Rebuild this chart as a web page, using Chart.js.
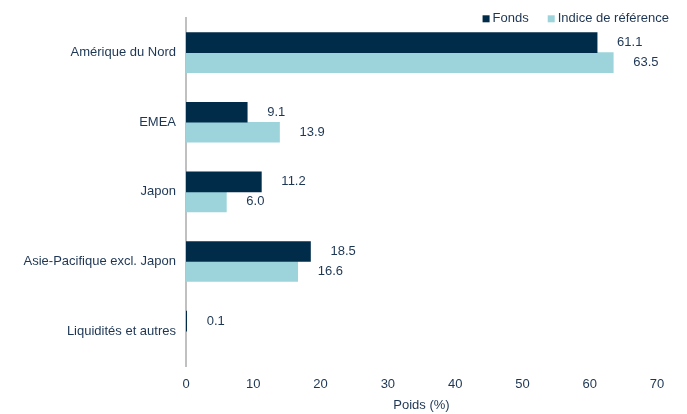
<!DOCTYPE html>
<html lang="fr">
<head>
<meta charset="utf-8">
<script src="https://cdn.jsdelivr.net/npm/chart.js@4/dist/chart.umd.min.js"></script>
<style>
  html, body { margin: 0; padding: 0; background: #ffffff; }
  #wrap { position: relative; width: 687px; height: 414px; }
</style>
</head>
<body>
<div id="wrap"><canvas id="region-chart"></canvas></div>
<script>
// Regional weights (%)
const regions = ['Amérique du Nord', 'EMEA', 'Japon', 'Asie-Pacifique excl. Japon', 'Liquidités et autres'];
const fundWeights = [61.1, 9.1, 11.2, 18.5, 0.1];
const benchmarkWeights = [63.5, 13.9, 6.0, 16.6, null];
const xTicks = [0, 10, 20, 30, 40, 50, 60, 70];

const TEXT = '#1d3654';
const FONT = { family: 'Liberation Sans, Arial, sans-serif', size: 13 };

/**
 * Draws the value next to the end of each bar
 */
const valueLabels = {
    id: 'valueLabels',
    afterDatasetsDraw(chart) {
        const ctx = chart.ctx;
        ctx.save();
        ctx.font = `${FONT.size}px ${FONT.family}`;
        ctx.fillStyle = TEXT;
        ctx.textAlign = 'left';
        ctx.textBaseline = 'middle';
        chart.data.datasets.forEach((ds, i) => {
            chart.getDatasetMeta(i).data.forEach((bar, j) => {
                const v = ds.data[j];
                if (v === null || v === undefined) return;
                ctx.fillText(v.toFixed(1), bar.x + 20, bar.y);
            });
        });
        ctx.restore();
    }
};

/**
 * Small legend in the top right corner, level with the top of the plot
 */
const cornerLegend = {
    id: 'cornerLegend',
    afterDraw(chart) {
        const ctx = chart.ctx;
        const box = 7, gap = 3, spacing = 19;
        ctx.save();
        ctx.font = `${FONT.size}px ${FONT.family}`;
        ctx.textBaseline = 'middle';
        ctx.textAlign = 'left';
        const items = chart.data.datasets.map(ds => ({
            text: ds.label,
            color: ds.backgroundColor,
            w: box + gap + ctx.measureText(ds.label).width
        }));
        const total = items.reduce((s, it) => s + it.w, 0) + spacing * (items.length - 1);
        let x = chart.width - 18 - total;
        const y = chart.chartArea.top + 1;
        items.forEach(it => {
            ctx.fillStyle = it.color;
            ctx.fillRect(x, y - box / 2, box, box);
            ctx.fillStyle = TEXT;
            ctx.fillText(it.text, x + box + gap, y);
            x += it.w + spacing;
        });
        ctx.restore();
    }
};

const ctx = document.getElementById('region-chart').getContext('2d');
new Chart(ctx, {
    type: 'bar',
    data: {
        labels: regions,
        datasets: [
            {
                label: 'Fonds',
                data: fundWeights,
                backgroundColor: '#002b49',
                barThickness: 20
            },
            {
                label: 'Indice de référence',
                data: benchmarkWeights,
                backgroundColor: '#9dd4dc',
                barThickness: 20
            }
        ]
    },
    options: {
        indexAxis: 'y',
        responsive: true,
        maintainAspectRatio: false,
        animation: false,
        layout: { padding: { top: 17, right: 30, bottom: 0, left: 0 } },
        plugins: {
            legend: { display: false },
            tooltip: { enabled: false }
        },
        scales: {
            x: {
                min: 0,
                max: 70,
                afterBuildTicks: (scale) => { scale.ticks = xTicks.map(v => ({ value: v })); },
                afterFit: (scale) => { scale.height = 48; },
                grid: { display: false },
                border: { display: false },
                ticks: { color: TEXT, font: FONT, padding: 3, maxRotation: 0 },
                title: {
                    display: true,
                    text: 'Poids (%)',
                    color: TEXT,
                    font: FONT,
                    padding: { top: 7, bottom: 1 }
                }
            },
            y: {
                afterFit: (scale) => { scale.width = 186; },
                grid: { display: false, drawTicks: false },
                border: { display: true, color: '#c0c0c0', width: 2 },
                ticks: { color: TEXT, font: FONT, padding: 10 }
            }
        }
    },
    plugins: [valueLabels, cornerLegend]
});
</script>
</body>
</html>
